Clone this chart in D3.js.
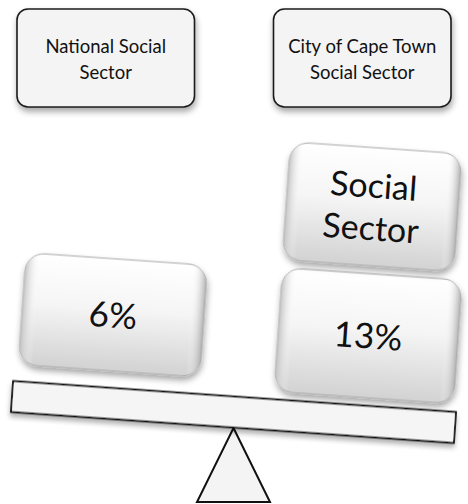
<!DOCTYPE html>
<html><head><meta charset="utf-8">
<script src="https://cdn.jsdelivr.net/npm/d3@7/dist/d3.min.js"></script>
<style>html,body{margin:0;padding:0;background:#fff;}svg{display:block;}</style>
</head><body>
<script>
// ---- data ----
const categories = ["National Social Sector", "City of Cape Town Social Sector"];
const headerLines = [["National Social", "Sector"], ["City of Cape Town", "Social Sector"]];
const values = [6, 13];
const valueLabels = ["6%", "13%"];
const stackedLabels = [[], [["Social", "Sector"]]];   // extra blocks stacked on each side

const W = 468, H = 504;
const svg = d3.select("body").append("svg").attr("width", W).attr("height", H);
const defs = svg.append("defs");

const shadow = defs.append("filter").attr("id", "sh").attr("x", "-20%").attr("y", "-20%").attr("width", "140%").attr("height", "150%");
shadow.append("feDropShadow").attr("dx", 1).attr("dy", 4).attr("stdDeviation", 3).attr("flood-color", "#000").attr("flood-opacity", 0.35);

const shadowSoft = defs.append("filter").attr("id", "sh2").attr("x", "-20%").attr("y", "-20%").attr("width", "140%").attr("height", "150%");
shadowSoft.append("feDropShadow").attr("dx", 0).attr("dy", 4).attr("stdDeviation", 2.5).attr("flood-color", "#000").attr("flood-opacity", 0.3);

const grad = defs.append("linearGradient").attr("id", "blk").attr("x1", 0).attr("y1", 0).attr("x2", 0).attr("y2", 1);
grad.append("stop").attr("offset", "0%").attr("stop-color", "#ffffff");
grad.append("stop").attr("offset", "45%").attr("stop-color", "#f5f5f5");
grad.append("stop").attr("offset", "100%").attr("stop-color", "#d2d2d2");

const edge = defs.append("linearGradient").attr("id", "edge").attr("x1", 0).attr("y1", 0).attr("x2", 1).attr("y2", 0);
edge.append("stop").attr("offset", "0%").attr("stop-color", "#bdbdbd").attr("stop-opacity", 0.9);
edge.append("stop").attr("offset", "8%").attr("stop-color", "#fff").attr("stop-opacity", 0);
edge.append("stop").attr("offset", "92%").attr("stop-color", "#fff").attr("stop-opacity", 0);
edge.append("stop").attr("offset", "100%").attr("stop-color", "#a8a8a8").attr("stop-opacity", 0.9);

const font = "Lato, 'Open Sans', sans-serif";

// ---- header boxes ----
const x = d3.scaleBand().domain(categories).range([17, 451]).paddingInner(0.308).paddingOuter(0);
const hdr = svg.append("g").selectAll("g").data(categories).join("g");
hdr.append("rect")
  .attr("x", d => x(d)).attr("y", 9)
  .attr("width", x.bandwidth()).attr("height", 98)
  .attr("rx", 11)
  .attr("fill", "#f4f4f4").attr("stroke", "#1c1c1c").attr("stroke-width", 1.6)
  .attr("filter", "url(#sh)");
hdr.each(function (d, i) {
  const t = d3.select(this).append("text")
    .attr("text-anchor", "middle").attr("font-family", font).attr("font-size", 18.5).attr("fill", "#111");
  headerLines[i].forEach((ln, j) => {
    t.append("tspan").attr("x", x(d) + x.bandwidth() / 2).attr("y", 53 + j * 26).text(ln);
  });
});

// ---- seesaw ----
const pivot = { x: 233.5, y: 412 };
const tilt = Math.atan2(31, 443) * 180 / Math.PI; // heavier side down
const beamLen = 444, beamH = 31;

// fulcrum
const fulcrumTop = 428, fulcrumBase = 502, fulcrumHalf = 36.5;
svg.append("path")
  .attr("d", d3.line()([[pivot.x, fulcrumTop], [pivot.x + fulcrumHalf, fulcrumBase], [pivot.x - fulcrumHalf, fulcrumBase]]) + "Z")
  .attr("fill", "#f4f4f4").attr("stroke", "#111").attr("stroke-width", 2).attr("stroke-linejoin", "miter");

const beamG = svg.append("g").attr("transform", `translate(${pivot.x},${pivot.y}) rotate(${tilt})`);
beamG.append("rect")
  .attr("x", -beamLen / 2).attr("y", -beamH / 2).attr("width", beamLen).attr("height", beamH)
  .attr("fill", "#f5f5f5").attr("stroke", "#111").attr("stroke-width", 1.8)
  .attr("filter", "url(#sh2)");

// blocks on beam (local coordinates)
const side = d3.scaleOrdinal().domain(categories).range([-127, 129]);
const blockW = d3.scaleOrdinal().domain(categories).range([182, 180]);
const blockH = [112, 124];
const gapToBeam = [17, 8];
const stackW = 172, stackH = 118, stackGap = 8;

function drawBlock(g, cx, cy, w, h, lines, fs) {
  const b = g.append("g").attr("transform", `translate(${cx},${cy})`);
  b.append("rect").attr("x", -w / 2).attr("y", -h / 2).attr("width", w).attr("height", h).attr("rx", 19)
    .attr("fill", "url(#blk)").attr("stroke", "#a8a8a8").attr("stroke-width", 1).attr("filter", "url(#sh)");
  b.append("rect").attr("x", -w / 2).attr("y", -h / 2).attr("width", w).attr("height", h).attr("rx", 19)
    .attr("fill", "url(#edge)");
  const t = b.append("text").attr("text-anchor", "middle").attr("font-family", font)
    .attr("font-size", fs).attr("fill", "#111");
  const lh = fs * 1.25;
  lines.forEach((ln, j) => {
    t.append("tspan").attr("x", 0).attr("y", (j - (lines.length - 1) / 2) * lh).attr("dy", "0.36em").text(ln);
  });
}

categories.forEach((c, i) => {
  const cx = side(c);
  const bottom = -beamH / 2 - gapToBeam[i];
  const cy = bottom - blockH[i] / 2;
  drawBlock(beamG, cx, cy, blockW(c), blockH[i], [valueLabels[i]], i === 0 ? 35 : 35);
  let top = bottom - blockH[i];
  stackedLabels[i].forEach(lines => {
    const sb = top - stackGap;
    drawBlock(beamG, cx - 5, sb - stackH / 2, stackW, stackH, lines, 34);
    top = sb - stackH;
  });
});
</script>
</body></html>
